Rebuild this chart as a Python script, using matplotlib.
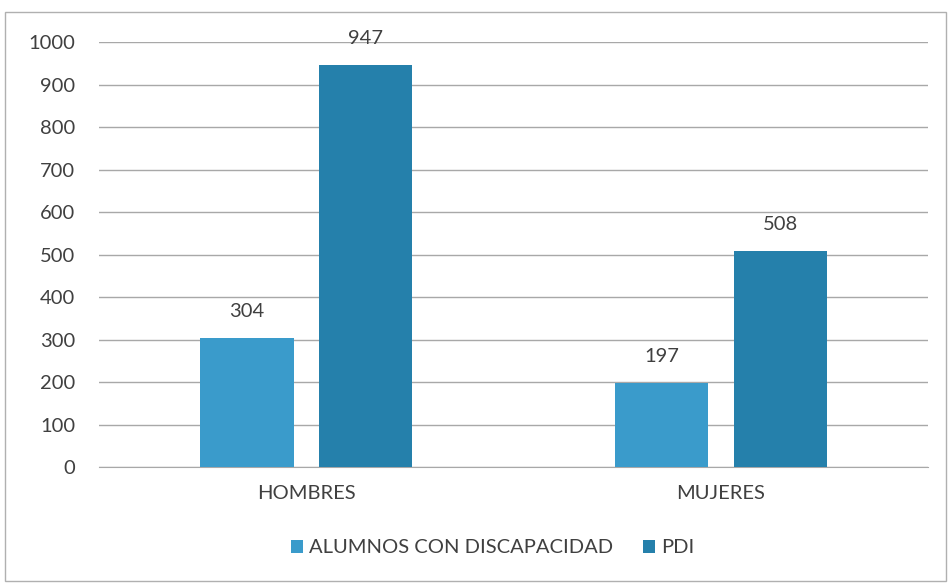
import matplotlib
matplotlib.use("Agg")
import matplotlib.pyplot as plt
from matplotlib.patches import Rectangle
import numpy as np

categories = ["HOMBRES", "MUJERES"]
series_names = ["ALUMNOS CON DISCAPACIDAD", "PDI"]
alumnos = [304, 197]
pdi = [947, 508]
yticks = [0, 100, 200, 300, 400, 500, 600, 700, 800, 900, 1000]

plt.rcParams['font.family'] = ['Lato', 'DejaVu Sans']
text_color = '#404040'
c_light = '#3A9BCB'
c_dark = '#2580AB'

fig = plt.figure(figsize=(9.51, 5.84), dpi=100)
ax = fig.add_axes([0.104, 0.2003, 0.872, 0.7277])

x = np.arange(len(categories))
w = 0.225
off = 0.143
b1 = ax.bar(x - off, alumnos, w, color=c_light, label=series_names[0], zorder=3)
b2 = ax.bar(x + off, pdi, w, color=c_dark, label=series_names[1], zorder=3)

for bars, vals in ((b1, alumnos), (b2, pdi)):
    for r, v in zip(bars, vals):
        ax.annotate(str(v), (r.get_x() + r.get_width() / 2, v), xytext=(0, 13),
                    textcoords='offset points', ha='center', va='bottom',
                    fontsize=14.5, color=text_color)

ax.set_xlim(-0.5, 1.5)
ax.set_ylim(0, 1000)
ax.set_yticks(yticks)
ax.set_yticklabels([str(t) for t in yticks], fontsize=14.5, color=text_color)
ax.set_xticks(x)
ax.set_xticklabels(categories, fontsize=14.5, color=text_color)
ax.tick_params(axis='both', length=0)
ax.tick_params(axis='y', pad=17)
ax.tick_params(axis='x', pad=13)
ax.grid(axis='y', color='#a8a8a8', linewidth=1.0, zorder=0)
for s in ['top', 'right', 'left']:
    ax.spines[s].set_visible(False)
ax.spines['bottom'].set_color('#a8a8a8')

leg = fig.legend(loc='center', bbox_to_anchor=(0.518, 0.062), ncol=2, frameon=False,
                 fontsize=14.5, handlelength=0.6, handleheight=0.6, handletextpad=0.3,
                 columnspacing=1.5)
for t in leg.get_texts():
    t.set_color(text_color)

fig.patches.append(Rectangle((0.005, 0.005), 0.99, 0.975, transform=fig.transFigure,
                             fill=False, edgecolor='#b0b0b0', linewidth=1.0))

fig.savefig('out.png', dpi=100, facecolor='white')
